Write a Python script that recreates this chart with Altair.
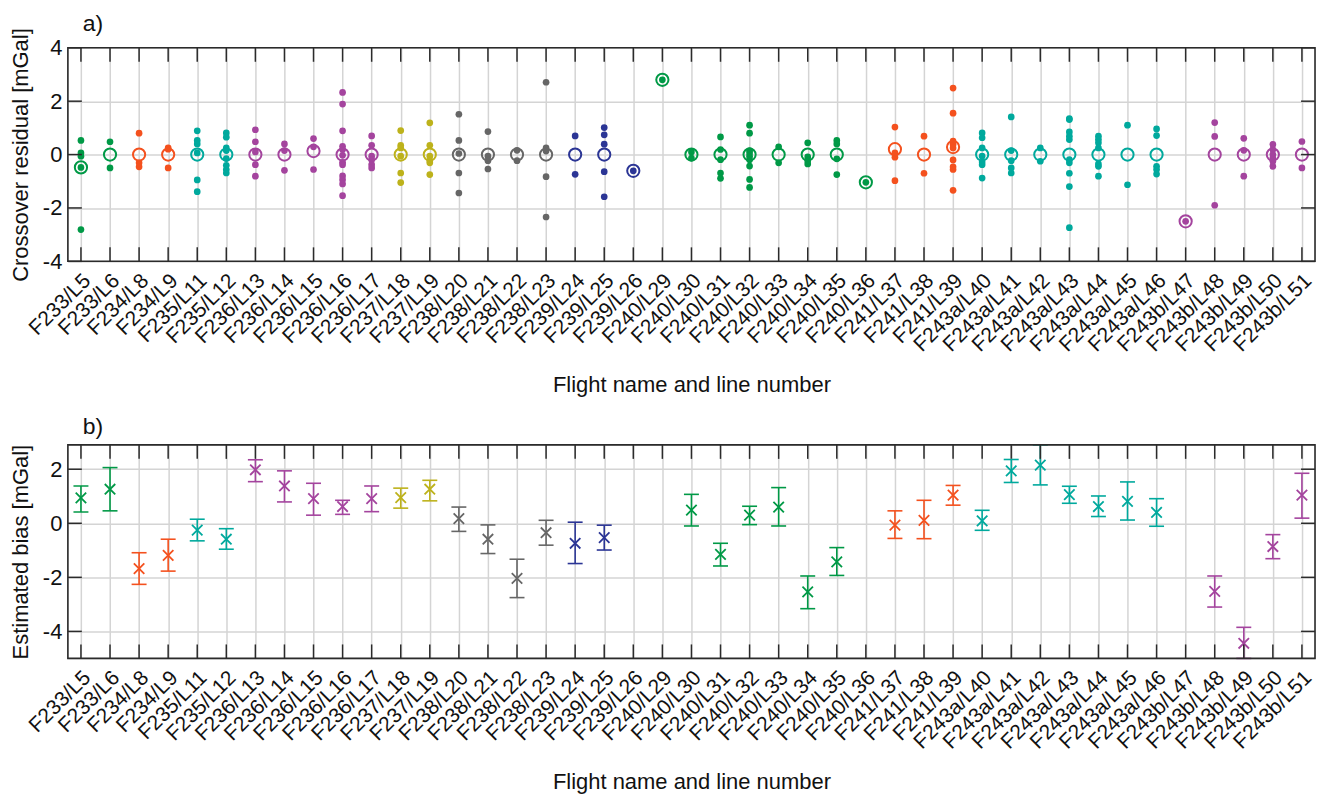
import altair as alt
import pandas as pd

names = ["F233/L5", "F233/L6", "F234/L8", "F234/L9", "F235/L11", "F235/L12",
         "F236/L13", "F236/L14", "F236/L15", "F236/L16", "F236/L17",
         "F237/L18", "F237/L19", "F238/L20", "F238/L21", "F238/L22", "F238/L23",
         "F239/L24", "F239/L25", "F239/L26",
         "F240/L29", "F240/L30", "F240/L31", "F240/L32", "F240/L33", "F240/L34", "F240/L35", "F240/L36",
         "F241/L37", "F241/L38", "F241/L39",
         "F243a/L40", "F243a/L41", "F243a/L42", "F243a/L43", "F243a/L44", "F243a/L45", "F243a/L46",
         "F243b/L47", "F243b/L48", "F243b/L49", "F243b/L50", "F243b/L51"]

residuals = [
    [0.53, 0.06, -0.06, -0.48, -2.81],
    [0.48, -0.5],
    [0.8, -0.31, -0.46],
    [0.25, 0.2, -0.5],
    [0.89, 0.53, 0.4, 0.06, -0.95, -1.39],
    [0.81, 0.65, 0.25, 0.15, -0.15, -0.4, -0.56, -0.69],
    [0.93, 0.48, 0.1, -0.38, -0.81],
    [0.4, 0.15, -0.59],
    [0.6, 0.29, -0.56],
    [2.33, 1.89, 0.89, 0.31, 0.19, -0.03, -0.29, -0.38, -0.8, -0.94, -1.1, -1.54],
    [0.7, 0.35, -0.06, -0.19, -0.38, -0.5],
    [0.9, 0.35, 0.25, -0.06, -0.69, -1.05],
    [1.19, 0.35, -0.06, -0.23, -0.31, -0.75],
    [1.51, 0.53, 0.04, -0.69, -1.44],
    [0.86, -0.06, -0.23, -0.54],
    [0.16, -0.23],
    [2.71, 0.25, 0.13, -0.83, -2.34],
    [0.7, -0.74],
    [1.01, 0.74, 0.39, -0.64, -1.58],
    [-0.61],
    [2.8],
    [0.1, -0.13],
    [0.66, 0.19, -0.19, -0.69, -0.89],
    [1.1, 0.8, 0.15, 0.06, -0.06, -0.19, -0.43, -0.93, -1.23],
    [0.29, -0.31],
    [0.44, -0.09, -0.23, -0.35],
    [0.53, 0.4, -0.16, -0.75],
    [-1.04],
    [1.03, 0.06, -0.1, -0.98],
    [0.69, -0.7],
    [2.49, 1.55, 0.5, 0.38, 0.25, -0.2, -0.46, -0.56, -1.34],
    [0.81, 0.63, 0.25, -0.06, -0.28, -0.38, -0.88],
    [1.41, 0.15, -0.23, -0.5, -0.69],
    [0.25, -0.25],
    [1.35, 1.31, 0.85, 0.69, 0.56, -0.19, -0.31, -0.7, -1.2, -2.74],
    [0.69, 0.56, 0.44, 0.25, -0.35, -0.44, -0.81],
    [1.1, -1.13],
    [0.96, 0.71, -0.44, -0.56, -0.73],
    [-2.5],
    [1.2, 0.68, -1.9],
    [0.61, 0.16, -0.81],
    [0.38, 0.19, 0.0, -0.13, -0.25, -0.44],
    [0.49, -0.5],
]

means = [-0.48, 0, 0, 0, 0, 0, 0, 0, 0.13, 0, 0, 0, 0, 0, 0, 0, 0, 0, 0, -0.61,
         2.8, 0, 0, 0, 0, 0, 0, -1.04, 0.2, 0, 0.28, 0, 0, 0, 0, 0, 0, 0,
         -2.5, 0, 0, 0, 0]

NA = float("nan")
bias = [0.94, 1.26, -1.68, -1.19, -0.25, -0.59, 1.98, 1.38, 0.91, 0.62, 0.91, 0.95, 1.26,
        0.17, -0.59, -2.04, -0.35, -0.74, -0.53, NA,
        NA, 0.49, -1.15, 0.3, 0.6, -2.54, -1.43, NA,
        -0.07, 0.11, 1.04, 0.09, 1.94, 2.15, 1.06, 0.62, 0.81, 0.4,
        NA, -2.52, -4.44, -0.86, 1.04]
bias_lo = [0.42, 0.46, -2.26, -1.77, -0.65, -0.96, 1.54, 0.79, 0.3, 0.33, 0.43, 0.56, 0.83,
           -0.3, -1.12, -2.75, -0.81, -1.49, -0.99, NA,
           NA, -0.1, -1.58, -0.05, -0.1, -3.16, -1.93, NA,
           -0.56, -0.57, 0.67, -0.26, 1.51, 1.42, 0.74, 0.25, 0.12, -0.11,
           NA, -3.1, -5.0, -1.31, 0.19]
bias_hi = [1.38, 2.06, -1.09, -0.59, 0.15, -0.2, 2.35, 1.94, 1.48, 0.85, 1.38, 1.3, 1.59,
           0.6, -0.06, -1.33, 0.11, 0.04, -0.07, NA,
           NA, 1.07, -0.74, 0.63, 1.32, -1.95, -0.9, NA,
           0.46, 0.85, 1.4, 0.48, 2.36, 2.9, 1.37, 1.01, 1.53, 0.91,
           NA, -1.95, -3.85, -0.42, 1.85]

flight_order = ["F233", "F234", "F235", "F236", "F237", "F238", "F239", "F240", "F241", "F243a", "F243b"]
flight_colors = ["#009946", "#F4511E", "#00A99D", "#A4449E", "#BDB21B", "#666666", "#2B3595",
                 "#009946", "#F4511E", "#00A99D", "#A4449E"]

top_ticks = [-4, -2, 0, 2, 4]
bot_ticks = [-4, -2, 0, 2]

flights = [n.split("/")[0] for n in names]

dots_df = pd.DataFrame([{"name": n, "flight": f, "v": v}
                        for n, f, vals in zip(names, flights, residuals) for v in vals])
mean_df = pd.DataFrame({"name": names, "flight": flights, "m": means})
bias_df = pd.DataFrame({"name": names, "flight": flights, "b": bias, "lo": bias_lo, "hi": bias_hi}).dropna()
names_df = pd.DataFrame({"name": names})

W, H = 1250, 214
FONT = "Liberation Sans"
GRID = "#d4d4d4"
FRAME = "#2b2b2b"
TXT = "#111111"

color = alt.Color("flight:N", scale=alt.Scale(domain=flight_order, range=flight_colors), legend=None)

x_axis = alt.Axis(title="Flight name and line number", labelAngle=-45, labelAlign="right",
                  labelBaseline="middle", labelPadding=16, labelOffset=6, labelOverlap=False,
                  ticks=False, domain=False, grid=True, gridColor=GRID, gridWidth=1.5,
                  labelFontSize=21, titleFontSize=22, titlePadding=19, labelFont=FONT,
                  titleFont=FONT, labelColor=TXT, titleColor=TXT, titleFontWeight="normal")
xscale = alt.Scale(type="point", padding=0.45, domain=names)
xenc = alt.X("name:N", sort=names, scale=xscale, axis=x_axis)

label_expr = "datum.value < 0 ? '-' + abs(datum.value) : '' + datum.value"


def y_axis(title, vals):
    return alt.Axis(title=title, values=vals, ticks=False, domain=False, grid=True,
                    gridColor=GRID, gridWidth=1.5, labelFontSize=22, titleFontSize=22,
                    labelPadding=6, titlePadding=10, labelExpr=label_expr, labelFont=FONT,
                    titleFont=FONT, labelColor=TXT, titleColor=TXT, titleFontWeight="normal")


def decorations(ticks_vals, ydom):
    tk = pd.DataFrame({"v": ticks_vals})
    ysc = alt.Scale(domain=ydom, nice=False)
    xt1 = alt.Chart(names_df).mark_rule(color=FRAME, strokeWidth=1.5).encode(
        x=alt.X("name:N", sort=names, scale=xscale), y=alt.value(0), y2=alt.value(14))
    xt2 = alt.Chart(names_df).mark_rule(color=FRAME, strokeWidth=1.5).encode(
        x=alt.X("name:N", sort=names, scale=xscale), y=alt.value(H - 14), y2=alt.value(H))
    yt1 = alt.Chart(tk).mark_rule(color=FRAME, strokeWidth=1.5).encode(
        y=alt.Y("v:Q", scale=ysc), x=alt.value(0), x2=alt.value(14))
    yt2 = alt.Chart(tk).mark_rule(color=FRAME, strokeWidth=1.5).encode(
        y=alt.Y("v:Q", scale=ysc), x=alt.value(W - 14), x2=alt.value(W))
    frame = alt.Chart(pd.DataFrame({"a": [0]})).mark_rect(filled=False, stroke=FRAME, strokeWidth=1.6).encode(
        x=alt.value(0), x2=alt.value(W), y=alt.value(0), y2=alt.value(H))
    return [xt1, xt2, yt1, yt2, frame]


def panel_title(t, dy):
    return alt.TitleParams(t, anchor="start", frame="group", dx=15, dy=dy, fontSize=23,
                           fontWeight="normal", offset=0, font=FONT, color=TXT)


ysc_top = alt.Scale(domain=[-4, 4], nice=False)
dots = alt.Chart(dots_df).mark_point(filled=True, shape="circle", size=45, opacity=1).encode(
    x=xenc, y=alt.Y("v:Q", scale=ysc_top, axis=y_axis("Crossover residual [mGal]", top_ticks)),
    color=color)
circ = alt.Chart(mean_df).mark_point(filled=False, shape="circle", size=150, strokeWidth=2, opacity=1).encode(
    x=xenc, y=alt.Y("m:Q", scale=ysc_top), color=color)

top = alt.layer(dots, circ, *decorations(top_ticks, [-4, 4])).properties(
    width=W, height=H, title=panel_title("a)", 8))

ysc_bot = alt.Scale(domain=[-5, 2.9], nice=False)
bars = alt.Chart(bias_df).mark_rule(strokeWidth=1.6).encode(
    x=xenc, y=alt.Y("lo:Q", scale=ysc_bot, axis=y_axis("Estimated bias [mGal]", bot_ticks)),
    y2="hi:Q", color=color)
cap_lo = alt.Chart(bias_df).mark_tick(size=15, thickness=1.6, opacity=1).encode(
    x=xenc, y=alt.Y("lo:Q", scale=ysc_bot), color=color)
cap_hi = alt.Chart(bias_df).mark_tick(size=15, thickness=1.6, opacity=1).encode(
    x=xenc, y=alt.Y("hi:Q", scale=ysc_bot), color=color)
xs = alt.Chart(bias_df).mark_point(shape="M-1,-1L1,1M-1,1L1,-1", size=110, strokeWidth=1.8,
                                   filled=False, opacity=1).encode(
    x=xenc, y=alt.Y("b:Q", scale=ysc_bot), color=color)

bottom = alt.layer(bars, cap_lo, cap_hi, xs, *decorations(bot_ticks, [-5, 2.9])).properties(
    width=W, height=H, title=panel_title("b)", -5))

chart = alt.vconcat(top, bottom, spacing=19).configure_view(stroke=None).configure(
    background="white", padding={"left": 0, "top": 3, "right": 0, "bottom": 0})

chart.save("out.html", embed_options={"renderer": "svg", "actions": False})
